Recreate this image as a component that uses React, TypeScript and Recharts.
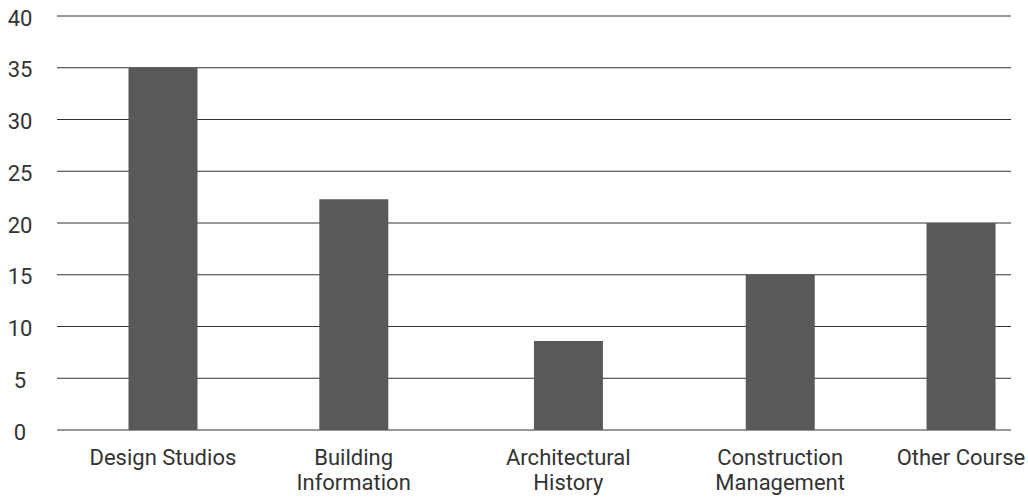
import React from 'react';
import { BarChart, Bar, XAxis, YAxis, CartesianGrid } from 'recharts';

// course categories, positioned along a 0-100 axis as in the source figure
const categories = [
  'Design Studios',
  'Building\nInformation',
  'Architectural\nHistory',
  'Construction\nManagement',
  'Other Course',
];
const positions = [11.1, 31.1, 53.6, 75.8, 94.75];
const values = [35, 22.3, 8.6, 15, 20];
const yTicks = [0, 5, 10, 15, 20, 25, 30, 35, 40];

const data = categories.map((name, i) => ({ name, pos: positions[i], value: values[i] }));

const FONT = 'Roboto, "Noto Sans", sans-serif';
const TEXT = '#333333';

const YTick = (props: any) => {
  const { x, y, payload } = props;
  return (
    <text x={x} y={y} dy={9.5} textAnchor="middle" fill={TEXT} fontFamily={FONT} fontSize={22}>
      {payload.value}
    </text>
  );
};

const XTick = (props: any) => {
  const { x, y, payload } = props;
  const idx = positions.indexOf(payload.value);
  const lines = idx >= 0 ? categories[idx].split('\n') : [];
  return (
    <text x={x} y={y} textAnchor="middle" fill={TEXT} fontFamily={FONT} fontSize={22}>
      {lines.map((l, i) => (
        <tspan key={i} x={x} dy={i === 0 ? 27 : 25}>
          {l}
        </tspan>
      ))}
    </text>
  );
};

export default function App() {
  return (
    <div style={{ position: 'absolute', left: 0, top: 0, background: '#fff' }}>
      <BarChart width={1028} height={497} data={data} margin={{ top: 16, right: 17, left: 0, bottom: 0 }}>
        <CartesianGrid vertical={false} stroke="#333333" strokeWidth={1} />
        <XAxis
          type="number"
          dataKey="pos"
          domain={[0, 100]}
          ticks={positions}
          interval={0}
          height={67}
          axisLine={false}
          tickLine={false}
          tick={<XTick />}
        />
        <YAxis
          domain={[0, 40]}
          ticks={yTicks}
          width={57}
          axisLine={false}
          tickLine={false}
          tickMargin={31}
          tick={<YTick />}
        />
        <Bar dataKey="value" fill="#59595b" barSize={69} isAnimationActive={false} />
      </BarChart>
    </div>
  );
}
